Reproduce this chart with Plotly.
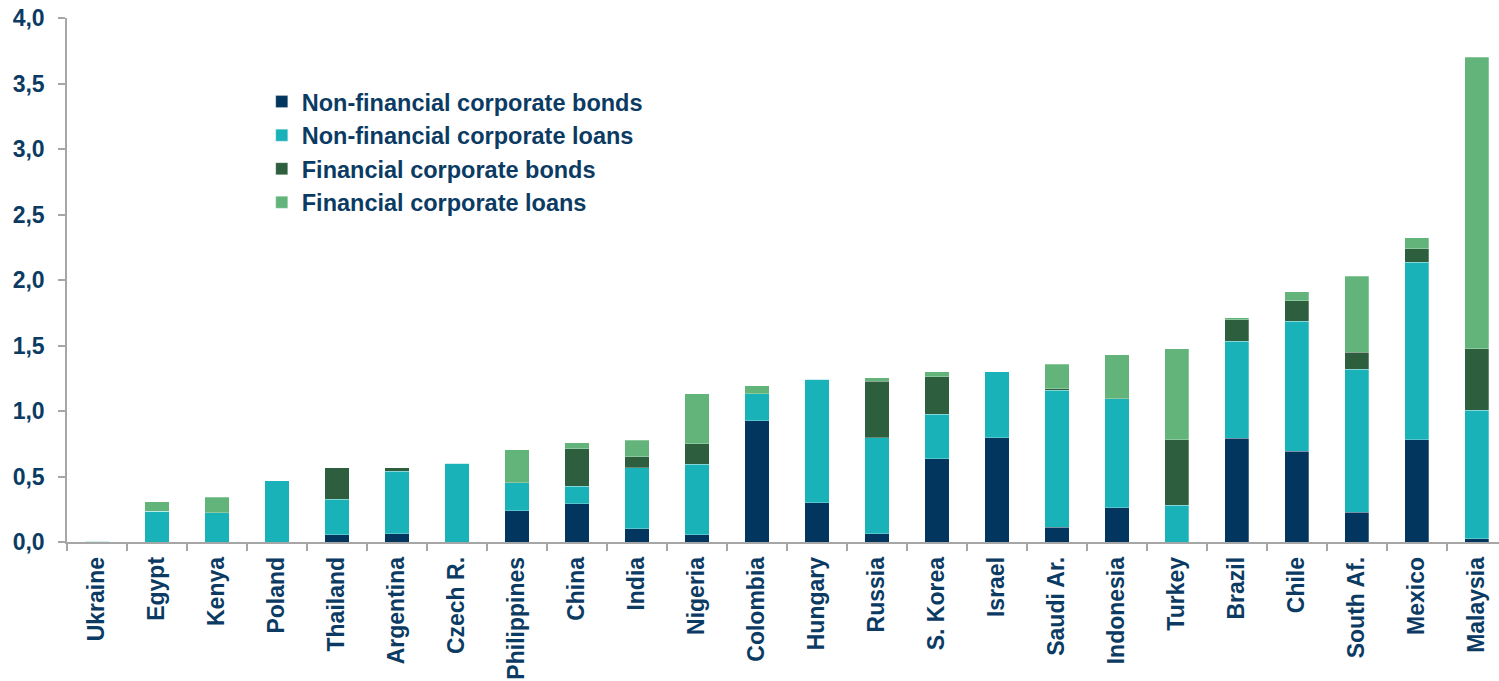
import plotly.graph_objects as go

# Countries, ordered by total
countries = ["Ukraine", "Egypt", "Kenya", "Poland", "Thailand", "Argentina", "Czech R.",
             "Philippines", "China", "India", "Nigeria", "Colombia", "Hungary", "Russia",
             "S. Korea", "Israel", "Saudi Ar.", "Indonesia", "Turkey", "Brazil", "Chile",
             "South Af.", "Mexico", "Malaysia"]

nonfin_bonds = [0, 0, 0, 0, 0.056, 0.062, 0, 0.24, 0.292, 0.102, 0.056, 0.924, 0.30, 0.064,
                0.636, 0.796, 0.111, 0.263, 0, 0.792, 0.694, 0.228, 0.781, 0.024]
nonfin_loans = [0.004, 0.233, 0.225, 0.468, 0.270, 0.479, 0.60, 0.214, 0.133, 0.465, 0.539,
                0.208, 0.942, 0.730, 0.341, 0.502, 1.046, 0.829, 0.280, 0.742, 0.990, 1.090,
                1.355, 0.981]
fin_bonds = [0, 0, 0, 0, 0.240, 0.025, 0, 0, 0.287, 0.082, 0.155, 0, 0, 0.435, 0.283, 0,
             0.014, 0, 0.499, 0.161, 0.156, 0.132, 0.101, 0.469]
fin_loans = [0, 0.074, 0.117, 0, 0, 0, 0, 0.249, 0.044, 0.127, 0.382, 0.059, 0, 0.023, 0.038,
             0, 0.186, 0.338, 0.695, 0.016, 0.07, 0.58, 0.085, 2.227]

series = [
    ("Non-financial corporate bonds", nonfin_bonds, "#03365E"),
    ("Non-financial corporate loans", nonfin_loans, "#19B2B8"),
    ("Financial corporate bonds", fin_bonds, "#2D5E3E"),
    ("Financial corporate loans", fin_loans, "#62B47B"),
]

TEXT = "#0B3B63"
AXIS = "#A6A6A6"
FONT = "Liberation Sans, Arial, sans-serif"

fig = go.Figure()
for name, vals, color in series:
    fig.add_trace(go.Bar(
        x=countries, y=vals, name=name,
        marker=dict(color=color, line=dict(color="rgba(255,255,255,0.45)", width=0.6)),
        width=0.405,
    ))

fig.update_layout(
    barmode="stack",
    width=1499, height=681,
    margin=dict(l=67, r=0, t=18, b=139),
    paper_bgcolor="white", plot_bgcolor="white",
    separators=", ",
    font=dict(family=FONT, color=TEXT),
    showlegend=True,
    legend=dict(
        x=0.136, y=0.882, xanchor="left", yanchor="top",
        traceorder="normal",
        font=dict(family=FONT, size=23.5, color=TEXT, weight="bold"),
        bgcolor="rgba(0,0,0,0)",
        tracegroupgap=0,
    ),
)

fig.update_yaxes(
    range=[0, 4.0], tickmode="linear", tick0=0, dtick=0.5, tickformat=".1f",
    showline=True, linecolor=AXIS, linewidth=1.5,
    ticks="outside", ticklen=7, tickcolor=AXIS, tickwidth=1.5,
    showgrid=False, zeroline=False, automargin=False, ticklabelstandoff=9,
    tickfont=dict(family=FONT, size=23, color=TEXT, weight="bold"),
)

fig.update_xaxes(
    type="category", range=[-0.5, 23.37],
    showline=True, linecolor=AXIS, linewidth=1.5,
    ticks="outside", ticklen=7, tickcolor=AXIS, tickwidth=1.5,
    tickson="boundaries", tickangle=-90, ticklabelstandoff=4,
    showgrid=False, automargin=False,
    tickfont=dict(family=FONT, size=23, color=TEXT, weight="bold"),
)

fig.write_html("out.html")
